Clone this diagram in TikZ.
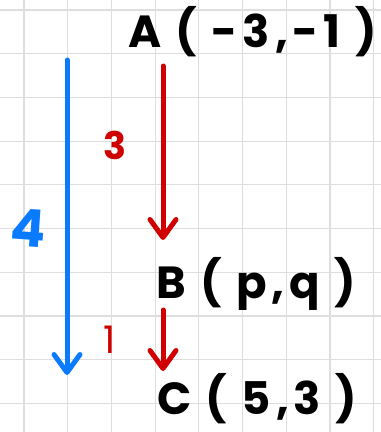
\documentclass[tikz,border=0pt]{standalone}
\usepackage{fontspec}
\setmainfont{Poppins}
\usetikzlibrary{arrows.meta}
\definecolor{gridc}{RGB}{222,222,222}
\definecolor{myblue}{RGB}{10,122,255}
\definecolor{myred}{RGB}{208,0,0}
\tikzset{
  pt/.style={anchor=base west, inner sep=0pt, font=\fontsize{45}{50}\selectfont\bfseries\addfontfeatures{LetterSpace=11}},
  lbl/.style={inner sep=0pt, font=\fontsize{38}{42}\selectfont\bfseries},
  vec/.style={line width=5pt, line cap=round, -{Straight Barb[length=18pt,width=26pt,round,line width=5pt]}}
}
\begin{document}
\begin{tikzpicture}[x=1pt,y=-1pt]
\useasboundingbox (0,0) rectangle (381,432);
\fill[white] (0,0) rectangle (381,432);
\foreach \gx in {24,67.7,111.4,155.1,198.8,242.5,286.2,329.9,373.6}
  \draw[gridc, line width=1.2pt] (\gx,0) -- (\gx,432);
\foreach \gy in {10,53.7,97.4,141.1,184.8,228.5,272.2,315.9,359.6,403.3}
  \draw[gridc, line width=1.2pt] (0,\gy) -- (381,\gy);
\node[pt] (A) at (128,47) {A ( -3,-1 )};
\node[pt] (B) at (156,298) {B ( p,q )};
\node[pt] (C) at (157,414) {C ( 5,3 )};
\coordinate (a1) at (163,66);
\coordinate (a2) at (163,240);
\coordinate (b1) at (163,310);
\coordinate (b2) at (163,371);
\coordinate (c1) at (67,60);
\coordinate (c2) at (67,375);
\draw[vec, myred] (a1) -- (a2);
\draw[vec, myred] (b1) -- (b2);
\draw[vec, myblue] (c1) -- (c2);
\node[lbl, text=myred] (n3) at (115,145) {3};
\node[lbl, text=myblue, font=\fontsize{52}{58}\selectfont\bfseries, rotate=-4] (n4) at (28,228) {4};
\node[lbl, text=myred, font=\fontsize{38}{42}\selectfont] (n1) at (110,340) {1};
\end{tikzpicture}
\end{document}
